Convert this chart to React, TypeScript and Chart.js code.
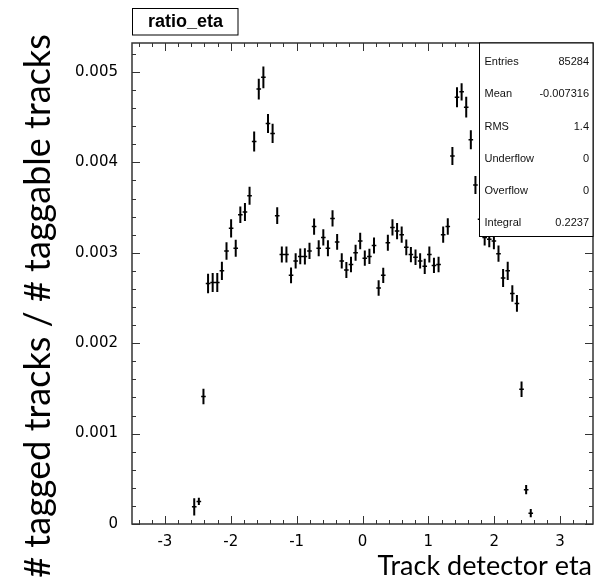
import React, { useEffect, useRef } from 'react';
import { Chart, registerables } from 'chart.js';

Chart.register(...registerables);

// Histogram "ratio_eta": 100 bins on [-3.5, 3.5], bin width 0.07
const etaCenters = [
  -2.555, -2.485, -2.415, -2.345, -2.275, -2.205, -2.135, -2.065, -1.995, -1.925,
  -1.855, -1.785, -1.715, -1.645, -1.575, -1.505, -1.435, -1.365, -1.295, -1.225,
  -1.155, -1.085, -1.015, -0.945, -0.875, -0.805, -0.735, -0.665, -0.595, -0.525,
  -0.455, -0.385, -0.315, -0.245, -0.175, -0.105, -0.035, 0.035, 0.105, 0.175,
  0.245, 0.315, 0.385, 0.455, 0.525, 0.595, 0.665, 0.735, 0.805, 0.875,
  0.945, 1.015, 1.085, 1.155, 1.225, 1.295, 1.365, 1.435, 1.505, 1.575,
  1.645, 1.715, 1.785, 1.855, 1.925, 1.995, 2.065, 2.135, 2.205, 2.275,
  2.345, 2.415, 2.485, 2.555,
];

const ratioValues = [
  0.00019, 0.00025, 0.00141, 0.00266, 0.00267, 0.00267, 0.0028, 0.00302, 0.00327, 0.00305,
  0.00342, 0.00345, 0.00363, 0.00423, 0.00481, 0.00494, 0.00443, 0.00432, 0.00341, 0.00298,
  0.00298, 0.00275, 0.00291, 0.00296, 0.00296, 0.00302, 0.00329, 0.00305, 0.00317, 0.00305,
  0.00338, 0.00312, 0.00291, 0.00281, 0.00287, 0.003, 0.00313, 0.00294, 0.00296, 0.00308,
  0.00261, 0.00275, 0.00311, 0.00328, 0.00324, 0.0032, 0.00306, 0.00298, 0.00295, 0.00291,
  0.00285, 0.00298, 0.00286, 0.00287, 0.0032, 0.00329, 0.00407, 0.00472, 0.00478, 0.00461,
  0.00425, 0.00375, 0.00337, 0.00317, 0.00315, 0.00313, 0.00299, 0.00272, 0.0028, 0.00255,
  0.00244, 0.00149, 0.00038, 0.00012,
];

const ratioErrors = [
  0.000095, 0.00004, 0.000085, 0.000107, 0.000105, 0.000105, 0.0001, 0.000097, 0.0001, 0.000095,
  0.000092, 0.0001, 0.0001, 0.00011, 0.000114, 0.00012, 0.000105, 0.000107, 0.000092, 0.000088,
  0.000088, 0.000088, 0.000085, 0.000088, 0.00009, 0.00009, 0.00009, 0.000088, 0.00009, 0.000088,
  0.00009, 0.000088, 0.000085, 0.000088, 0.000085, 0.000088, 0.00009, 0.000085, 0.000085, 0.000088,
  0.000085, 0.000085, 0.000088, 0.00009, 0.00009, 0.00009, 0.000088, 0.000085, 0.000085, 0.000085,
  0.000085, 0.000088, 0.000085, 0.000085, 0.00009, 0.000092, 0.0001, 0.00011, 0.000095, 0.000115,
  0.000105, 0.0001, 0.000098, 0.00009, 0.00009, 0.00009, 0.00009, 0.0001, 0.0001, 0.000092,
  0.000092, 0.000085, 0.00005, 0.000045,
];

const binHalfWidth = 0.035;

const xTickValues = [-3, -2, -1, 0, 1, 2, 3];
const xTickLabels = ['-3', '-2', '-1', '0', '1', '2', '3'];
const yTickValues = [0, 0.001, 0.002, 0.003, 0.004, 0.005];
const yTickLabels = ['0', '0.001', '0.002', '0.003', '0.004', '0.005'];

const statLabels = ['Entries', 'Mean', 'RMS', 'Underflow', 'Overflow', 'Integral'];
const statValues = ['85284', '-0.007316', '1.4', '0', '0', '0.2237'];

const histTitle = 'ratio_eta';
const xTitle = 'Track detector eta';
const yTitle = '# tagged tracks / # taggable tracks';

const X_MIN = -3.5;
const X_MAX = 3.5;
const Y_MIN = 0;
const Y_MAX = 0.00532;

const FRAME_COLOR = '#333333';

const rootPlugin = {
  id: 'rootStyle',
  afterDatasetsDraw(chart: any) {
    const { ctx, scales } = chart;
    const xs = scales.x;
    const ys = scales.y;
    ctx.save();
    ctx.strokeStyle = '#000';
    ctx.lineWidth = 2;
    ctx.beginPath();
    for (let i = 0; i < etaCenters.length; i++) {
      const px = xs.getPixelForValue(etaCenters[i]);
      const y1 = ys.getPixelForValue(ratioValues[i] - ratioErrors[i]);
      const y2 = ys.getPixelForValue(ratioValues[i] + ratioErrors[i]);
      ctx.moveTo(px, y1);
      ctx.lineTo(px, y2);
    }
    ctx.stroke();
    ctx.lineWidth = 1.5;
    ctx.beginPath();
    for (let i = 0; i < etaCenters.length; i++) {
      const xa = xs.getPixelForValue(etaCenters[i] - binHalfWidth);
      const xb = xs.getPixelForValue(etaCenters[i] + binHalfWidth);
      const py = ys.getPixelForValue(ratioValues[i]);
      ctx.moveTo(xa, py);
      ctx.lineTo(xb, py);
    }
    ctx.stroke();
    ctx.restore();
  },
  afterDraw(chart: any) {
    const { ctx, chartArea, scales } = chart;
    const xs = scales.x;
    const ys = scales.y;
    const { left, right, top, bottom } = chartArea;
    ctx.save();

    // ticks on all four sides, pointing inward
    ctx.strokeStyle = FRAME_COLOR;
    ctx.lineWidth = 1;
    ctx.beginPath();
    for (let k = -17; k <= 17; k++) {
      const v = k * 0.2;
      const major = k % 5 === 0;
      const len = major ? 8 : 4;
      const px = Math.round(xs.getPixelForValue(v)) + 0.5;
      ctx.moveTo(px, bottom);
      ctx.lineTo(px, bottom - len);
      ctx.moveTo(px, top);
      ctx.lineTo(px, top + len);
    }
    for (let k = 0; k <= 26; k++) {
      const v = k * 0.0002;
      const major = k % 5 === 0;
      const len = major ? 8 : 4;
      const py = Math.round(ys.getPixelForValue(v)) + 0.5;
      ctx.moveTo(left, py);
      ctx.lineTo(left + len, py);
      ctx.moveTo(right, py);
      ctx.lineTo(right - len, py);
    }
    ctx.stroke();

    // frame
    ctx.lineWidth = 1.5;
    ctx.strokeRect(left, top, right - left, bottom - top);

    // stats box
    const sbL = 479.5;
    const sbT = top;
    const sbR = right;
    const sbB = 236.5;
    ctx.fillStyle = '#fff';
    ctx.fillRect(sbL, sbT, sbR - sbL, sbB - sbT);
    ctx.strokeStyle = '#000';
    ctx.lineWidth = 1;
    ctx.strokeRect(sbL, sbT, sbR - sbL, sbB - sbT);
    ctx.fillStyle = '#111';
    ctx.font = '11px "Liberation Sans", Arial, sans-serif';
    ctx.textBaseline = 'middle';
    const rowH = (sbB - sbT) / statLabels.length;
    for (let i = 0; i < statLabels.length; i++) {
      const cy = sbT + rowH * (i + 0.5) + 3;
      ctx.textAlign = 'left';
      ctx.fillText(statLabels[i], sbL + 5, cy);
      ctx.textAlign = 'right';
      ctx.fillText(statValues[i], sbR - 4, cy);
    }

    // title box
    ctx.fillStyle = '#fff';
    ctx.fillRect(132.5, 8.5, 105.5, 26.5);
    ctx.strokeStyle = '#000';
    ctx.lineWidth = 1;
    ctx.strokeRect(132.5, 8.5, 105.5, 26.5);
    ctx.fillStyle = '#000';
    ctx.font = 'bold 18px "Liberation Sans", Arial, sans-serif';
    ctx.textAlign = 'center';
    ctx.textBaseline = 'middle';
    ctx.fillText(histTitle, 185.5, 22.5);

    // axis titles
    ctx.font = '27px Lato, "Open Sans", sans-serif';
    ctx.textAlign = 'right';
    ctx.textBaseline = 'alphabetic';
    ctx.fillText(xTitle, 592, 575);

    ctx.translate(50, 306);
    ctx.rotate(-Math.PI / 2);
    ctx.textAlign = 'center';
    ctx.font = '36px Lato, "Open Sans", sans-serif';
    ctx.fillText(yTitle, 0, 0);

    ctx.restore();
  },
};

export default function App() {
  const canvasRef = useRef<HTMLCanvasElement | null>(null);

  useEffect(() => {
    if (!canvasRef.current) return;
    const points = etaCenters.map((x, i) => ({ x, y: ratioValues[i] }));
    const chart = new Chart(canvasRef.current, {
      type: 'scatter',
      data: {
        datasets: [
          {
            label: histTitle,
            data: points,
            pointRadius: 0,
            pointHoverRadius: 0,
            showLine: false,
          },
        ],
      },
      options: {
        animation: false,
        responsive: true,
        maintainAspectRatio: false,
        layout: { padding: { top: 43, right: 5, left: 0, bottom: 0 } },
        plugins: {
          legend: { display: false },
          tooltip: { enabled: false },
          title: { display: false },
        },
        scales: {
          x: {
            type: 'linear',
            min: X_MIN,
            max: X_MAX,
            grid: { display: false, drawTicks: false },
            border: { display: false },
            afterBuildTicks: (axis: any) => {
              axis.ticks = xTickValues.map((v) => ({ value: v }));
            },
            afterFit: (scale: any) => {
              scale.height = 60;
            },
            ticks: {
              color: '#000',
              padding: 9,
              maxRotation: 0,
              autoSkip: false,
              font: { family: '"DejaVu Sans", sans-serif', size: 15 },
              callback: (_v: any, index: number) => xTickLabels[index],
            },
          },
          y: {
            type: 'linear',
            min: Y_MIN,
            max: Y_MAX,
            grid: { display: false, drawTicks: false },
            border: { display: false },
            afterBuildTicks: (axis: any) => {
              axis.ticks = yTickValues.map((v) => ({ value: v }));
            },
            afterFit: (scale: any) => {
              scale.width = 132;
            },
            ticks: {
              color: '#000',
              padding: 14,
              autoSkip: false,
              font: { family: '"DejaVu Sans", sans-serif', size: 15 },
              callback: (_v: any, index: number) => yTickLabels[index],
            },
          },
        },
      },
      plugins: [rootPlugin],
    });
    return () => chart.destroy();
  }, []);

  return (
    <div style={{ position: 'fixed', left: 0, top: 0, width: 598, height: 584, background: '#fff' }}>
      <canvas ref={canvasRef} />
    </div>
  );
}
